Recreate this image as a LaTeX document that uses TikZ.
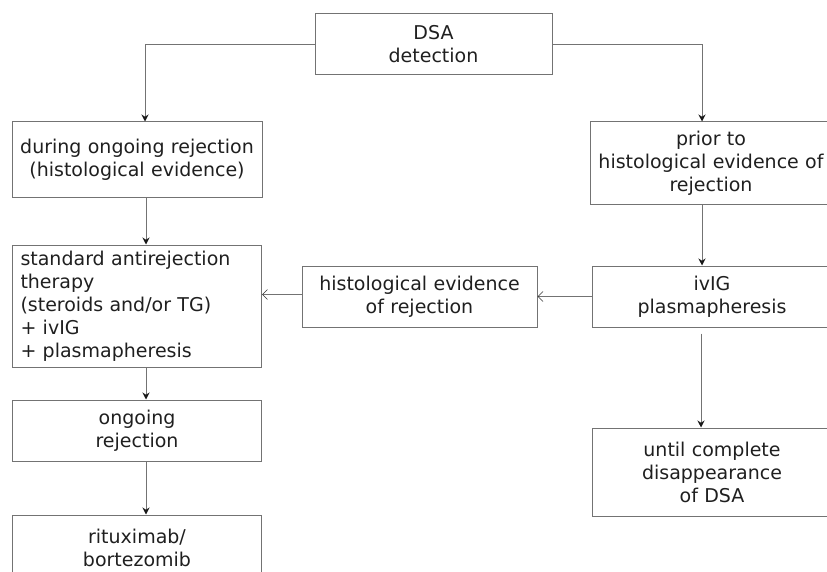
\documentclass[tikz,border=0pt]{standalone}
\usepackage{fontspec}
\setmainfont{DejaVu Sans}
\usetikzlibrary{arrows.meta}

\begin{document}
\begin{tikzpicture}[x=1pt,y=-1pt,
    font=\fontsize{19}{23}\selectfont,
    box/.style={draw=black!55,line width=1pt,text=black!88,inner sep=0pt,align=center},
    arr/.style={-{Stealth[length=7pt,width=7pt,black!90]},draw=black!55,line width=1pt},
    barb/.style={-{Straight Barb[length=5pt,width=10pt,black!80,line width=0.7pt]},draw=black!55,line width=1pt}]

            \useasboundingbox (0,0) rectangle (827,572);

            \node[box, text width=237pt, minimum height=61pt] (dsa) at (433.5,44.5) {DSA\\detection};
            \node[box, text width=250pt, minimum height=76pt] (during) at (137,160) {during ongoing rejection\\(histological evidence)};
            \node[box, text width=233pt, inner xsep=8pt, minimum height=122pt, align=left] (standard) [below of = during, node distance=146pt] {standard antirejection\\therapy\\(steroids and/or TG)\\+ ivIG\\+ plasmapheresis};
            \node[box, text width=249pt, minimum height=61pt] (ongoing) [below of = standard, node distance=124.5pt] {ongoing\\rejection};
            \node[box, text width=249pt, minimum height=66pt] (ritux) [below of = ongoing, node distance=117.5pt] {rituximab/\\bortezomib};

            \node[box, text width=242pt, minimum height=83pt] (prior) at (711,163.5) {prior to\\histological evidence of\\rejection};
            \node[box, text width=240pt, minimum height=61pt] (ivig) at (712,296.5) {ivIG\\plasmapheresis};
            \node[box, text width=240pt, minimum height=88pt] (until) [below of = ivig, node distance=175.5pt] {until complete\\disappearance\\of DSA};
            \node[box, text width=235pt, minimum height=61pt] (hist) [left of = ivig, node distance=292.5pt] {histological evidence\\of rejection};

            % DSA splits both ways
            \draw[arr] (dsa.west) -| ([xshift=8pt]during.north);
            \draw[arr] (dsa.east) -| ([xshift=-9pt]prior.north);

            \draw[arr] ([xshift=9pt]during.south) -- ([xshift=9pt]standard.north);
            \draw[arr] ([xshift=9pt]standard.south) -- ([xshift=9pt]ongoing.north);
            \draw[arr] ([xshift=9pt]ongoing.south) -- ([xshift=9pt]ritux.north);

            \draw[arr] ([xshift=-9pt]prior.south) -- ([xshift=-9pt]prior.south |- ivig.north);
            \draw[arr, shorten <=6pt] ([xshift=-11pt]ivig.south) -- ([xshift=-11pt]until.north);

            \draw[barb] (ivig.west) -- (hist.east);
            \draw[barb] ([yshift=2pt]hist.west) -- ([yshift=2pt]hist.west -| standard.east);

            ;
        \end{tikzpicture}
\end{document}
